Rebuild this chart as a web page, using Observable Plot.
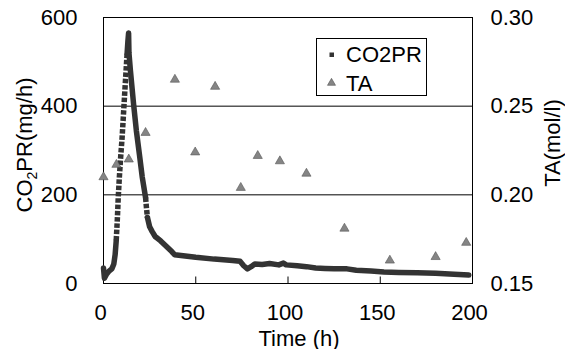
<!DOCTYPE html>
<html><head><meta charset="utf-8">
<script src="https://cdn.jsdelivr.net/npm/d3@7"></script>
<script src="https://cdn.jsdelivr.net/npm/@observablehq/plot@0.6"></script>
<style>
body{margin:0;background:#fff;}
#chart{width:565px;height:349px;}
</style></head><body><div id="chart"></div>
<script>
// CO2 production rate (mg/h) vs time (h)
const coTime = [0,0.5,1.5,3,4.5,5.6,6.3,6.9,7.5,8.0,8.6,9.3,10.1,10.8,11.5,12.2,12.8,13.2,13.6,13.8,14.6,16.3,17.8,19.5,21,22.8,23.3,23.8,25,26.4,28,31,34,37,38.5,42,50,60,70,74,76,78,80,82,86,90,95,97.5,99,105,110,115,120,125,132,137,145,152,160,170,180,190,198];
const coRate = [35,12,20,28,33,44,65,97,145,195,240,285,330,380,430,478,519,545,565,520,480,405,345,290,240,194,170,149,128,117,106,96,84,72,65,63,59,55,52,50,40,33,38,44,43,45,42,46,42,40,38,35,34,33,33,30,28,26,25,24,23,21,19];
// Titratable acidity (mol/l)
const taTime = [0,7,13.7,22.8,38.7,49.7,60.5,74.4,83.6,95.6,110,130.6,155.2,180,196.6];
const taValue = [0.210,0.217,0.220,0.235,0.265,0.224,0.261,0.204,0.222,0.219,0.212,0.181,0.163,0.165,0.173];
const xTicks = [0,50,100,150,200];
const yTicks = [0,200,400,600];
const taTicks = [0.15,0.20,0.25,0.30];
const seriesNames = ["CO2PR","TA"];

const coDomain = [0,600], taDomain = [0.15,0.30];
const toCo = ta => (ta - taDomain[0]) / (taDomain[1]-taDomain[0]) * (coDomain[1]-coDomain[0]) + coDomain[0];
const fromCo = v => taDomain[0] + (v - coDomain[0]) / (coDomain[1]-coDomain[0]) * (taDomain[1]-taDomain[0]);

const rows = coTime.map((t,i)=>({t, v: coRate[i]}));
const taRows = taTime.map((t,i)=>({t, v: taValue[i]}));

const lineColor = "#333";
const solid = {x:"t", y:"v", stroke: lineColor, strokeWidth: 5.5, strokeLinejoin:"round", strokeLinecap:"round"};
const dashed = {x:"t", y:"v", stroke: lineColor, strokeWidth: 5.5, strokeLinecap:"butt", strokeDasharray:"4.5,1.8"};
const tickSym = {draw(ctx){ ctx.moveTo(0,0); ctx.lineTo(0,-7); }};

const svg = Plot.plot({
  width: 565, height: 349,
  marginLeft: 103, marginRight: 93, marginTop: 17, marginBottom: 66,
  x: {domain: [0,200]},
  y: {domain: coDomain},
  style: {fontFamily: "'Liberation Sans', Arial, sans-serif", fontSize: "22px", background: "#fff", color: "#000", overflow: "visible"},
  marks: [
    Plot.ruleY([200,400], {stroke: "#000", strokeWidth: 1}),
    Plot.frame({stroke: "#000", strokeWidth: 1}),
    Plot.dot(xTicks.slice(1,-1), {x: d=>d, frameAnchor: "bottom", symbol: tickSym, stroke: "#000", strokeWidth: 1, r: 3}),
    Plot.axisY(yTicks, {anchor: "left", tickSize: 0, tickPadding: 26, label: null, fontSize: 22}),
    Plot.axisY(taTicks.map(toCo), {anchor: "right", tickSize: 0, tickPadding: 18, label: null, fontSize: 22, tickFormat: v => fromCo(v).toFixed(2)}),
    Plot.axisX(xTicks, {anchor: "bottom", tickSize: 0, tickPadding: 21, dx: -3, label: null, fontSize: 22}),
    Plot.line(rows, {...solid, filter: d => d.t <= 6.9}),
    Plot.line(rows, {...dashed, filter: d => d.t >= 6.9 && d.t <= 12.8}),
    Plot.line(rows, {...solid, filter: d => d.t >= 12.8 && d.t <= 22.8}),
    Plot.line(rows, {...dashed, filter: d => d.t >= 22.8 && d.t <= 23.8}),
    Plot.line(rows, {...solid, filter: d => d.t >= 23.8}),
    Plot.dot(taRows, {x: "t", y: d => toCo(d.v), symbol: "triangle", r: 3.4, fill: "#858585", stroke: "#555", strokeWidth: 0.6}),
    Plot.text(["Time (h)"], {frameAnchor: "bottom", dx: 11, dy: 55, fontSize: 22, lineAnchor: "middle"})
  ]
});

const s = d3.select(svg);
const font = "'Liberation Sans', Arial, sans-serif";
// left axis title with subscript
const yt = s.append("text")
  .attr("transform", "translate(24,145) rotate(-90)")
  .attr("text-anchor", "middle").attr("dy", "0.35em")
  .attr("font-family", font).attr("font-size", 22).attr("fill", "#000");
yt.append("tspan").text("CO");
yt.append("tspan").text("2").attr("font-size", 14).attr("dy", 5);
yt.append("tspan").text("PR(mg/h)").attr("dy", -5);
// right axis title
s.append("text")
  .attr("transform", "translate(552,143) rotate(-90)")
  .attr("text-anchor", "middle").attr("dy", "0.35em")
  .attr("font-family", font).attr("font-size", 22).attr("fill", "#000")
  .text("TA(mol/l)");

// legend
const lg = s.append("g").attr("text-anchor", "start");
lg.append("rect").attr("x", 316.5).attr("y", 38.5).attr("width", 110).attr("height", 57)
  .attr("fill", "#fff").attr("stroke", "#000").attr("stroke-width", 1);
lg.append("rect").attr("x", 329.5).attr("y", 52.5).attr("width", 4.5).attr("height", 4.5).attr("fill", lineColor);
lg.append("path").attr("d", d3.symbol(d3.symbolTriangle, Math.PI*3.0*3.0)())
  .attr("transform", "translate(331.5,83)").attr("fill", "#858585").attr("stroke", "#555").attr("stroke-width", 0.6);
lg.append("text").attr("x", 346).attr("y", 62).attr("text-anchor", "start").text(seriesNames[0])
  .attr("font-family", font).attr("font-size", 22).attr("fill", "#000");
lg.append("text").attr("x", 346).attr("y", 91).attr("text-anchor", "start").text(seriesNames[1])
  .attr("font-family", font).attr("font-size", 22).attr("fill", "#000");

document.getElementById("chart").append(svg);
</script></body></html>
